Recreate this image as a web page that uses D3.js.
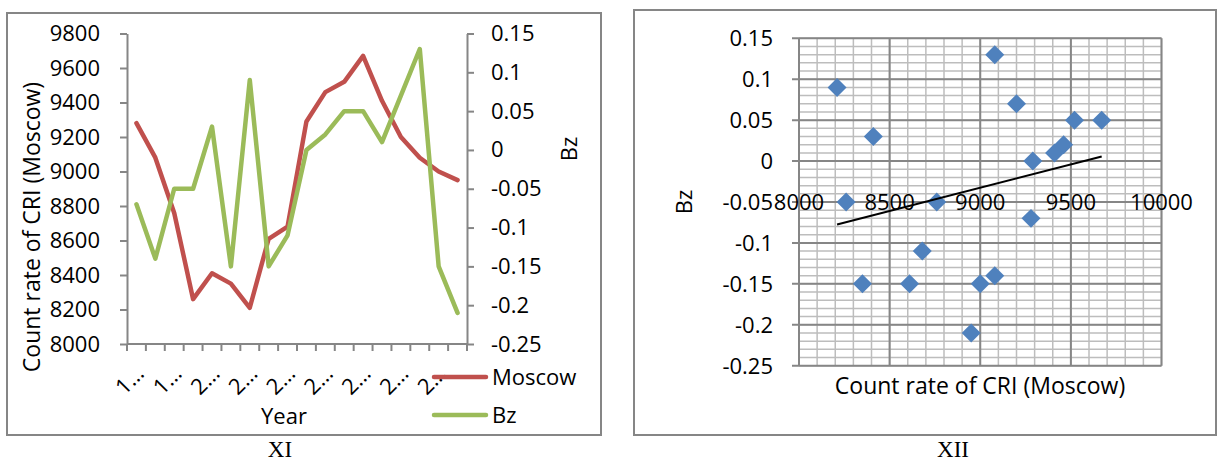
<!DOCTYPE html>
<html lang="en">
<head>
<meta charset="UTF-8">
<title>Moscow CRI count rate and Bz</title>
<style>
  body { margin: 0; background: #fff; }
  svg text { font-family: "Open Sans", sans-serif; fill: #000; }
  .cap { font-family: "Liberation Serif", "Times New Roman", serif; }
</style>
</head>
<body>
<svg id="chart" width="1219" height="462"></svg>
<script src="https://d3js.org/d3.v7.min.js"></script>
<script>
// data
var years = [1996, 1997, 1998, 1999, 2000, 2001, 2002, 2003, 2004,
             2005, 2006, 2007, 2008, 2009, 2010, 2011, 2012, 2013];
var moscow = [9280, 9080, 8760, 8260, 8410, 8350, 8210, 8610, 8680,
              9290, 9460, 9520, 9670, 9410, 9200, 9080, 9000, 8950];
var bz = [-0.07, -0.14, -0.05, -0.05, 0.03, -0.15, 0.09, -0.15, -0.11,
          0, 0.02, 0.05, 0.05, 0.01, 0.07, 0.13, -0.15, -0.21];
var leftTicks = [8000, 8200, 8400, 8600, 8800, 9000, 9200, 9400, 9600, 9800];
var bzTicks = [-0.25, -0.2, -0.15, -0.1, -0.05, 0, 0.05, 0.1, 0.15];
var scatterXTicks = [8000, 8500, 9000, 9500, 10000];

var red = "#c0504d", green = "#9bbb59", blue = "#4f81bd", grey = "#868686";
var fmtBz = function(d) { return String(+d.toFixed(2)); };

var svg = d3.select("#chart");
svg.append("rect").attr("width", 1219).attr("height", 462).attr("fill", "#fff");

// panel frames
svg.append("rect").attr("x", 7).attr("y", 13).attr("width", 594).attr("height", 422)
  .attr("fill", "none").attr("stroke", grey).attr("stroke-width", 2);
svg.append("rect").attr("x", 634).attr("y", 10).attr("width", 582).attr("height", 425)
  .attr("fill", "none").attr("stroke", grey).attr("stroke-width", 2);

// ---------- XI : line chart ----------
var g1 = svg.append("g");
var x = d3.scaleBand().domain(years).range([127, 467]);
var yL = d3.scaleLinear().domain([8000, 9800]).range([344, 33.5]);
var yR = d3.scaleLinear().domain([-0.25, 0.15]).range([344, 33.5]);

function styleAxis(sel) {
  sel.selectAll("path, line").attr("stroke", grey).attr("stroke-width", 2);
  sel.selectAll("text").style("font-size", "22px").attr("fill", "#000");
}

g1.append("g").attr("transform", "translate(127,0)")
  .call(d3.axisLeft(yL).tickValues(leftTicks).tickSize(7).tickSizeOuter(0).tickPadding(20)
    .tickFormat(d3.format("d")))
  .call(styleAxis);
g1.append("g").attr("transform", "translate(467,0)")
  .call(d3.axisRight(yR).tickValues(bzTicks).tickSize(7).tickSizeOuter(0).tickPadding(17)
    .tickFormat(fmtBz))
  .call(styleAxis);

// category axis: ticks on band edges, labels every second year
var edges = years.map(function(d) { return x(d); }).concat([x.range()[1]]);
g1.append("line").attr("x1", 127).attr("x2", 467).attr("y1", 344).attr("y2", 344)
  .attr("stroke", grey).attr("stroke-width", 2);
g1.selectAll(".xtick").data(edges).enter().append("line")
  .attr("x1", function(d) { return d; }).attr("x2", function(d) { return d; })
  .attr("y1", 344).attr("y2", 351).attr("stroke", grey).attr("stroke-width", 2);
g1.selectAll(".xlab").data(years.filter(function(d, i) { return i % 2 === 0; }))
  .enter().append("text")
  .attr("transform", function(d) {
    return "translate(" + (x(d) + x.bandwidth() / 2 + 9) + ",375) rotate(-45)";
  })
  .attr("text-anchor", "end")
  .style("font-size", "22px")
  .text(function(d) { return String(d).charAt(0) + "\u2026"; });

var cx = function(d, i) { return x(years[i]) + x.bandwidth() / 2; };
g1.append("path").datum(moscow)
  .attr("fill", "none").attr("stroke", red).attr("stroke-width", 4.5)
  .attr("stroke-linejoin", "round").attr("stroke-linecap", "round")
  .attr("d", d3.line().x(cx).y(function(d) { return yL(d); }));
g1.append("path").datum(bz)
  .attr("fill", "none").attr("stroke", green).attr("stroke-width", 4.5)
  .attr("stroke-linejoin", "round").attr("stroke-linecap", "round")
  .attr("d", d3.line().x(cx).y(function(d) { return yR(d); }));

// axis titles
g1.append("text").attr("transform", "translate(40,227) rotate(-90)")
  .attr("text-anchor", "middle").style("font-size", "23px")
  .text("Count rate of CRI (Moscow)");
g1.append("text").attr("transform", "translate(577,149) rotate(-90)")
  .attr("text-anchor", "middle").style("font-size", "22px").text("Bz");
g1.append("text").attr("x", 284).attr("y", 424)
  .attr("text-anchor", "middle").style("font-size", "22px").text("Year");

// legend
var legend = [{name: "Moscow", color: red, y: 377}, {name: "Bz", color: green, y: 415}];
var lg = g1.selectAll(".leg").data(legend).enter().append("g");
lg.append("line").attr("x1", 434).attr("x2", 486)
  .attr("y1", function(d) { return d.y; }).attr("y2", function(d) { return d.y; })
  .attr("stroke", function(d) { return d.color; }).attr("stroke-width", 4.5)
  .attr("stroke-linecap", "round");
lg.append("text").attr("x", 492).attr("y", function(d) { return d.y; })
  .attr("dy", "0.36em").style("font-size", "22px")
  .text(function(d) { return d.name; });

svg.append("text").attr("class", "cap").attr("x", 280).attr("y", 457)
  .attr("text-anchor", "middle").style("font-size", "23px").text("XI");

// ---------- XII : scatter ----------
var g2 = svg.append("g");
var xs = d3.scaleLinear().domain([8000, 10000]).range([799, 1161.5]);
var ys = d3.scaleLinear().domain([-0.25, 0.15]).range([365.7, 38.3]);

// minor grid
g2.selectAll(".vminor").data(d3.range(8000, 10001, 100)).enter().append("line")
  .attr("x1", function(d) { return xs(d); }).attr("x2", function(d) { return xs(d); })
  .attr("y1", ys(0.15)).attr("y2", ys(-0.25))
  .attr("stroke", "#bdbdbd").attr("stroke-width", 1.5);
g2.selectAll(".hminor").data(d3.range(-25, 16, 1)).enter().append("line")
  .attr("y1", function(d) { return ys(d / 100); }).attr("y2", function(d) { return ys(d / 100); })
  .attr("x1", xs(8000)).attr("x2", xs(10000))
  .attr("stroke", "#bdbdbd").attr("stroke-width", 1.5);
// major grid
g2.selectAll(".vmajor").data(scatterXTicks).enter().append("line")
  .attr("x1", function(d) { return xs(d); }).attr("x2", function(d) { return xs(d); })
  .attr("y1", ys(0.15)).attr("y2", ys(-0.25))
  .attr("stroke", grey).attr("stroke-width", 2);
g2.selectAll(".hmajor").data(bzTicks).enter().append("line")
  .attr("y1", function(d) { return ys(d); }).attr("y2", function(d) { return ys(d); })
  .attr("x1", xs(8000) - 7).attr("x2", xs(10000))
  .attr("stroke", grey).attr("stroke-width", 2);

// y labels
g2.selectAll(".ylab").data(bzTicks).enter().append("text")
  .attr("x", 773).attr("y", function(d) { return ys(d); }).attr("dy", "0.36em")
  .attr("text-anchor", "end").style("font-size", "22px")
  .text(fmtBz);
// x labels sit on the -0.05 line
g2.selectAll(".xlab").data(scatterXTicks).enter().append("text")
  .attr("x", function(d) { return xs(d); }).attr("y", ys(-0.05)).attr("dy", "0.36em")
  .attr("text-anchor", "middle").style("font-size", "22px")
  .text(function(d) { return d; });

// linear trend (least squares over the plotted points)
var mx = d3.mean(moscow), my = d3.mean(bz);
var sxy = d3.sum(moscow, function(d, i) { return (d - mx) * (bz[i] - my); });
var sxx = d3.sum(moscow, function(d) { return (d - mx) * (d - mx); });
var slope = sxy / sxx, icpt = my - slope * mx;
var ext = d3.extent(moscow);

// points
g2.selectAll(".pt").data(moscow).enter().append("path")
  .attr("d", d3.symbol(d3.symbolSquare, 180))
  .attr("transform", function(d, i) {
    return "translate(" + xs(d) + "," + ys(bz[i]) + ") rotate(45)";
  })
  .attr("fill", blue);

g2.append("line")
  .attr("x1", xs(ext[0])).attr("y1", ys(icpt + slope * ext[0]))
  .attr("x2", xs(ext[1])).attr("y2", ys(icpt + slope * ext[1]))
  .attr("stroke", "#000").attr("stroke-width", 2);

g2.append("text").attr("transform", "translate(692,202) rotate(-90)")
  .attr("text-anchor", "middle").style("font-size", "22px").text("Bz");
g2.append("text").attr("x", 980).attr("y", 394)
  .attr("text-anchor", "middle").style("font-size", "23px")
  .text("Count rate of CRI (Moscow)");

svg.append("text").attr("class", "cap").attr("x", 953).attr("y", 457)
  .attr("text-anchor", "middle").style("font-size", "23px").text("XII");
</script>
</body>
</html>
